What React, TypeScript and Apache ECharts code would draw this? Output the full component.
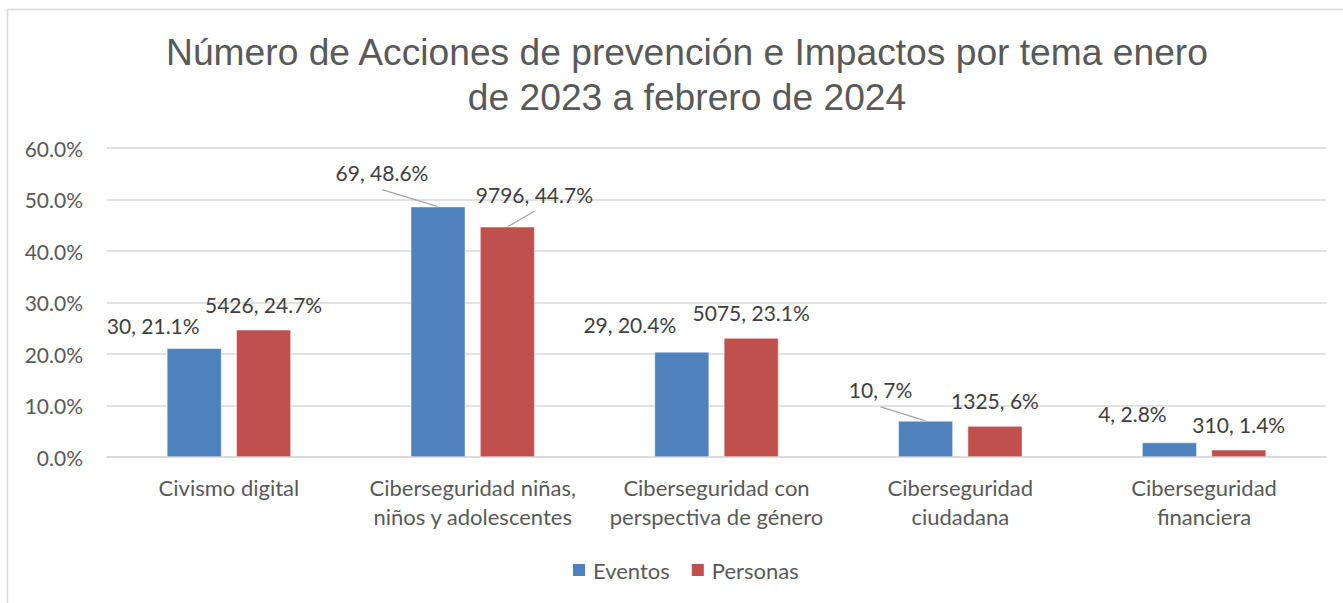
import React, { useEffect, useRef } from "react";
import * as echarts from "echarts";

const categories = [
  "Civismo digital",
  "Ciberseguridad niñas,\nniños y adolescentes",
  "Ciberseguridad con\nperspectiva de género",
  "Ciberseguridad\nciudadana",
  "Ciberseguridad\nfinanciera",
];
const eventosPct = [21.1, 48.6, 20.4, 7, 2.8];
const eventosCount = [30, 69, 29, 10, 4];
const personasPct = [24.7, 44.7, 23.1, 6, 1.4];
const personasCount = [5426, 9796, 5075, 1325, 310];
const yTicks = [0, 10, 20, 30, 40, 50, 60];

// label placement (layout, not data)
const eventosOffsets: [number, number][] = [[-41, -23], [-56, -34], [-52, -27], [-45, -31], [-37, -29]];
const eventosLeader = [false, true, false, true, false];
const personasOffsets: [number, number][] = [[0, -25], [27, -32.5], [0, -25.5], [0, -26], [0, -25.5]];
const personasLeader = [false, true, false, false, false];

const FONT = "Lato";
const FS_NUM = 21;
const FS_TXT = 22;
const BAR_W = 0.224;
const BAR_GAP = 0.27;

export default function App() {
  const ref = useRef<HTMLDivElement>(null);
  useEffect(() => {
    if (!ref.current) return;
    const chart = echarts.init(ref.current, undefined, { renderer: "svg" });
    const mk = (pct: number[], offs: [number, number][]) =>
      pct.map((v, i) => ({ value: v, label: { offset: offs[i] } }));
    const labelBase = (counts: number[]) => ({
      show: true,
      position: "top",
      distance: 0,
      verticalAlign: "middle",
      align: "center",
      fontFamily: FONT,
      fontSize: FS_NUM,
      color: "#404040",
      formatter: (p: any) => `${counts[p.dataIndex]}, ${p.value}%`,
    });
    // leader lines data: [categoryIndex, value, side, dx, dy]
    const leaderData: number[][] = [];
    eventosPct.forEach((v, i) => {
      if (eventosLeader[i]) leaderData.push([i, v, -1, eventosOffsets[i][0], eventosOffsets[i][1]]);
    });
    personasPct.forEach((v, i) => {
      if (personasLeader[i]) leaderData.push([i, v, 1, personasOffsets[i][0], personasOffsets[i][1]]);
    });
    chart.setOption({
      animation: false,
      textStyle: { fontFamily: FONT },
      title: {
        text: "Número de Acciones de prevención e Impactos por tema enero\nde 2023 a febrero de 2024",
        left: 682,
        top: 24,
        textAlign: "center",
        textStyle: {
          fontFamily: "Liberation Sans",
          fontSize: 37.2,
          fontWeight: "normal",
          color: "#595959",
          lineHeight: 45,
        },
      },
      graphic: [
        {
          type: "rect",
          shape: { x: 7.5, y: 9.5, width: 2000, height: 2000 },
          style: { fill: "none", stroke: "#D9D9D9", lineWidth: 1.5 },
          silent: true,
        },
      ],
      legend: {
        data: ["Eventos", "Personas"],
        left: 566,
        top: 553,
        icon: "rect",
        itemWidth: 14,
        itemHeight: 14,
        itemGap: 20,
        textStyle: { fontFamily: FONT, fontSize: FS_TXT, color: "#595959", lineHeight: 24, padding: [0, 0, 0, 2] },
      },
      grid: { left: 107, right: 17, top: 148, bottom: 146, containLabel: false },
      xAxis: {
        type: "category",
        data: categories,
        axisLine: { show: true, lineStyle: { color: "#D9D9D9", width: 1.5 } },
        axisTick: { show: false },
        axisLabel: {
          fontFamily: FONT,
          fontSize: FS_TXT,
          color: "#595959",
          lineHeight: 29,
          margin: 16,
          interval: 0,
        },
      },
      yAxis: {
        type: "value",
        min: yTicks[0],
        max: yTicks[yTicks.length - 1],
        interval: 10,
        axisLine: { show: false },
        axisTick: { show: false },
        splitLine: { lineStyle: { color: "#D9D9D9", width: 1.5 } },
        axisLabel: {
          fontFamily: FONT,
          fontSize: FS_NUM,
          color: "#595959",
          margin: 24,
          formatter: (v: number) => v.toFixed(1) + "%",
        },
      },
      series: [
        {
          name: "Eventos",
          type: "bar",
          barWidth: BAR_W * 100 + "%",
          barGap: BAR_GAP * 100 + "%",
          itemStyle: { color: "#4F81BD", borderColor: "#FFFFFF", borderWidth: 0.5 },
          label: labelBase(eventosCount),
          data: mk(eventosPct, eventosOffsets),
        },
        {
          name: "Personas",
          type: "bar",
          barWidth: BAR_W * 100 + "%",
          barGap: BAR_GAP * 100 + "%",
          itemStyle: { color: "#C0504D", borderColor: "#FFFFFF", borderWidth: 0.5 },
          label: labelBase(personasCount),
          data: mk(personasPct, personasOffsets),
        },
        {
          name: "leaders",
          type: "custom",
          silent: true,
          z: 1,
          data: leaderData,
          renderItem: (params: any, api: any) => {
            const cat = api.value(0);
            const val = api.value(1);
            const side = api.value(2);
            const dx = api.value(3);
            const dy = api.value(4);
            const p = api.coord([cat, val]);
            const band = api.size([1, 0])[0];
            const bw = band * BAR_W;
            const x = p[0] + (side * bw * (1 + BAR_GAP)) / 2;
            const y = p[1];
            return {
              type: "line",
              shape: { x1: x + dx, y1: y + dy + 17, x2: x, y2: y },
              style: { stroke: "#A6A6A6", lineWidth: 1.3 },
            };
          },
        },
      ],
    });
    return () => chart.dispose();
  }, []);
  return (
    <div
      ref={ref}
      style={{ position: "absolute", left: 0, top: 0, width: 1343, height: 603, background: "#FFFFFF" }}
    />
  );
}
